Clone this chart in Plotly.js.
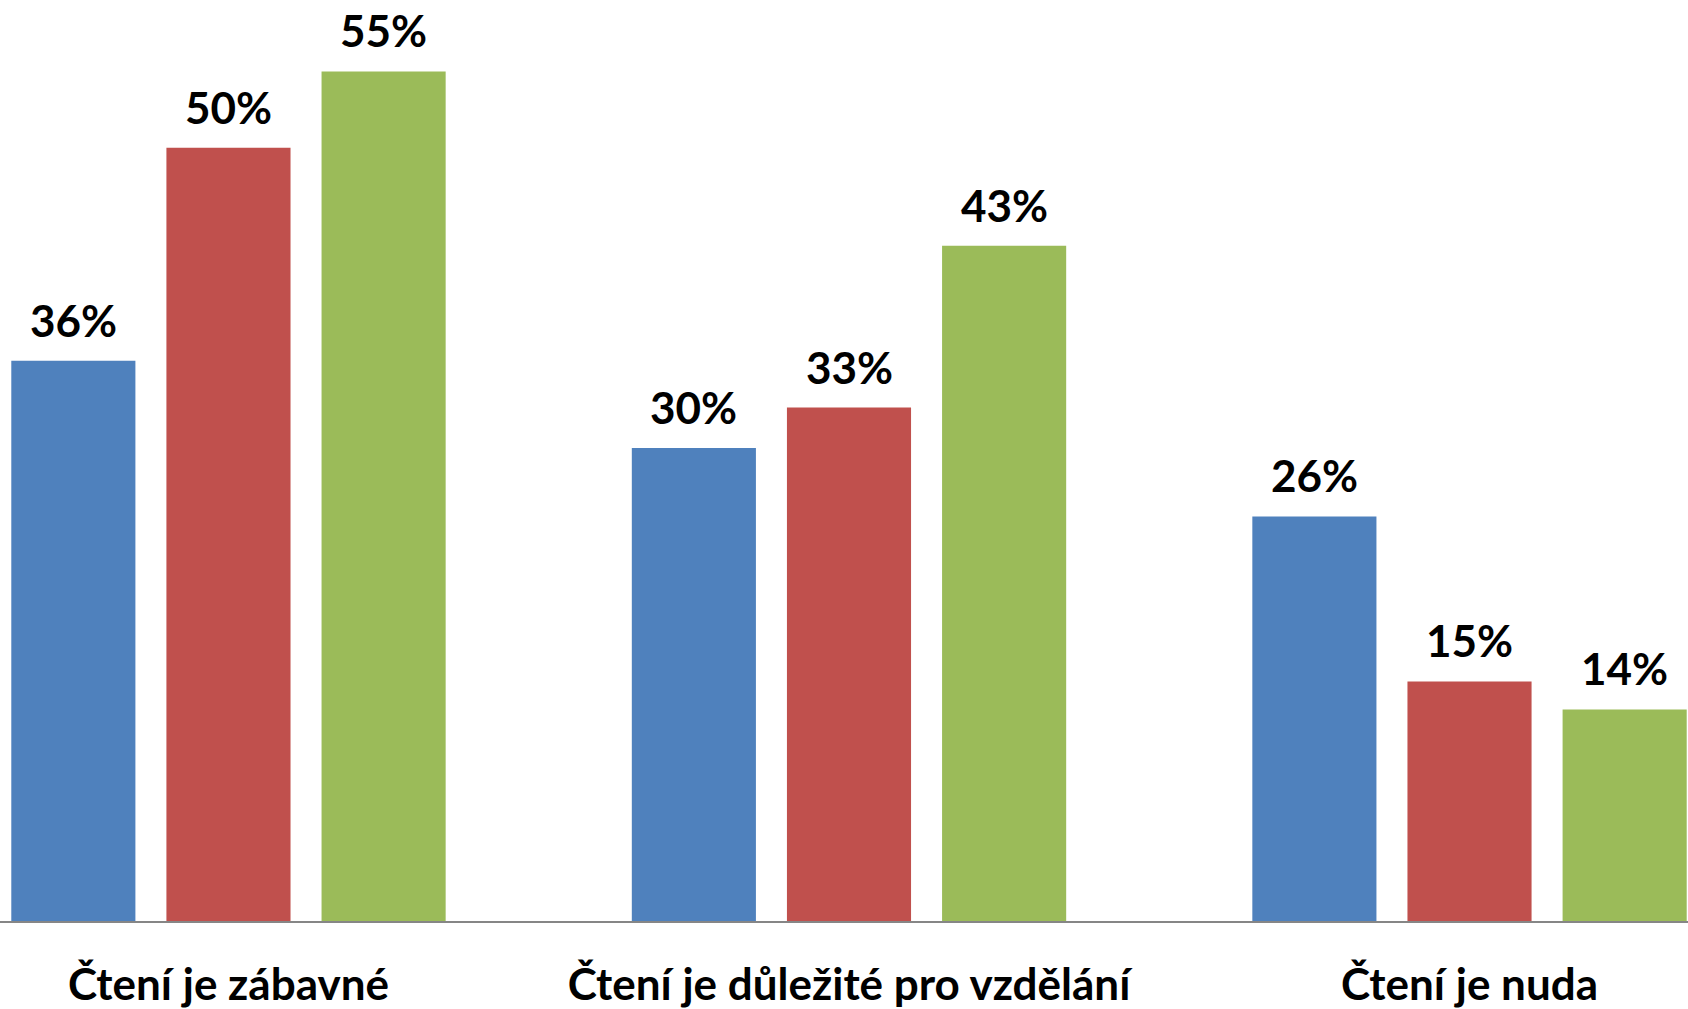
<!DOCTYPE html>
<html>
<head>
<meta charset="utf-8">
<script src="https://cdn.plot.ly/plotly-3.0.1.min.js"></script>
<style>html,body{margin:0;padding:0;background:#fff;}#chart{width:1688px;height:1009px;}</style>
</head>
<body>
<div id="chart"></div>
<script>
const categories = ["Čtení je zábavné", "Čtení je důležité pro vzdělání", "Čtení je nuda"];
const seriesA = [36.0, 30.4, 26.0];
const seriesB = [49.7, 33.0, 15.4];
const seriesC = [54.6, 43.4, 13.6];
const seriesNames = ["A", "B", "C"];
const colors = ["#4F81BD", "#C0504D", "#9BBB59"];

const fontFam = "Lato, 'Open Sans', sans-serif";
const BARGAP = 0.25, BARGROUPGAP = 0.2;
const allSeries = [seriesA, seriesB, seriesC];

const traces = allSeries.map((vals, i) => ({
  type: "bar",
  name: seriesNames[i],
  x: categories,
  y: vals,
  marker: {color: colors[i]},
  hoverinfo: "skip"
}));

// value labels above bars, placed via the axis scales
const slot = (1 - BARGAP) / allSeries.length;
const annotations = [];
allSeries.forEach((vals, j) => {
  vals.forEach((v, i) => {
    annotations.push({
      x: i + (j - (allSeries.length - 1) / 2) * slot,
      y: v,
      xref: "x", yref: "y",
      text: Math.round(v) + "%",
      showarrow: false,
      xanchor: "center",
      yanchor: "bottom",
      yshift: 13,
      font: {family: fontFam, size: 44, color: "#000", weight: 700}
    });
  });
});

const layout = {
  width: 1688,
  height: 1009,
  margin: {l: 0, r: 0, t: 0, b: 88, pad: 0},
  paper_bgcolor: "#fff",
  plot_bgcolor: "#fff",
  showlegend: false,
  barmode: "group",
  bargap: BARGAP,
  bargroupgap: BARGROUPGAP,
  annotations: annotations,
  xaxis: {
    type: "category",
    range: [-0.3682, 2.3521],
    showgrid: false,
    zeroline: false,
    showline: true,
    linecolor: "#868686",
    linewidth: 2,
    ticks: "",
    ticklabelstandoff: 24,
    tickfont: {family: fontFam, size: 44, color: "#000", weight: 700}
  },
  yaxis: {
    range: [0, 59.19],
    visible: false,
    showgrid: false,
    zeroline: false
  },
  hovermode: false
};

Plotly.newPlot("chart", traces, layout, {staticPlot: true, displayModeBar: false});
</script>
</body>
</html>
